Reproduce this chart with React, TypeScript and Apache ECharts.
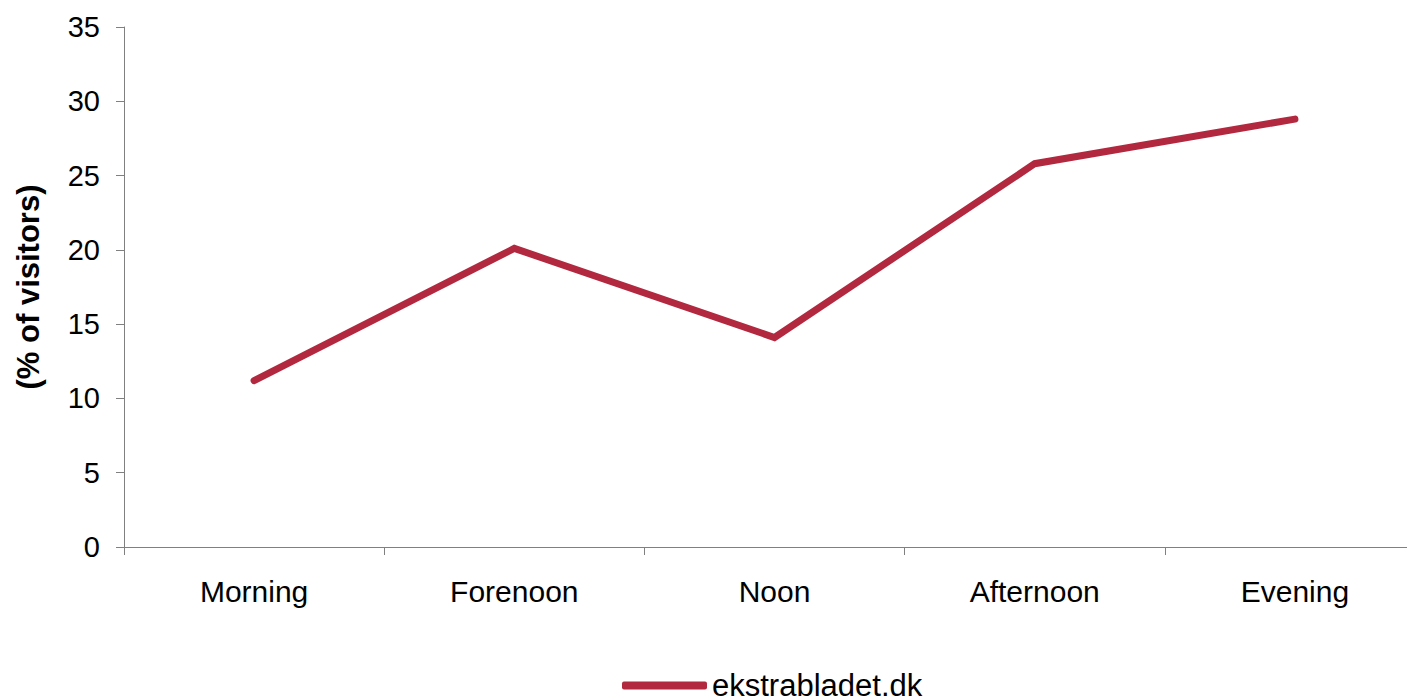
import React, { useEffect, useRef } from "react";
import * as echarts from "echarts";

const categories = ["Morning", "Forenoon", "Noon", "Afternoon", "Evening"];
const seriesName = "ekstrabladet.dk";
const values = [11.2, 20.1, 14.1, 25.8, 28.8];
const yTicks = { min: 0, max: 35, interval: 5 };
const yTitle = "(% of visitors)";

const FONT = "'Liberation Sans', Arial, sans-serif";
const LINE_COLOR = "#B2283F";
const AXIS_COLOR = "#808080";

export default function App() {
  const ref = useRef<HTMLDivElement>(null);
  useEffect(() => {
    if (!ref.current) return;
    const chart = echarts.init(ref.current, null, { renderer: "svg" });
    chart.setOption({
      animation: false,
      backgroundColor: "#ffffff",
      textStyle: { fontFamily: FONT },
      grid: { left: 124, top: 27, height: 520, width: 1301, containLabel: false },
      legend: {
        data: [seriesName],
        icon: "roundRect",
        itemWidth: 85,
        itemHeight: 8,
        itemGap: 10,
        left: 617,
        top: 665,
        textStyle: { fontSize: 31, color: "#000", fontFamily: FONT },
      },
      xAxis: {
        type: "category",
        data: categories,
        boundaryGap: true,
        axisLine: { show: true, lineStyle: { color: AXIS_COLOR, width: 1 } },
        axisTick: { show: true, inside: false, length: 8, lineStyle: { color: AXIS_COLOR } },
        axisLabel: { fontSize: 30, color: "#000", margin: 29, fontFamily: FONT },
        splitLine: { show: false },
      },
      yAxis: {
        type: "value",
        min: yTicks.min,
        max: yTicks.max,
        interval: yTicks.interval,
        name: yTitle,
        nameLocation: "middle",
        nameGap: 80,
        nameTextStyle: { fontSize: 31, fontWeight: "bold", color: "#000", fontFamily: FONT },
        axisLine: { show: true, lineStyle: { color: AXIS_COLOR, width: 1 } },
        axisTick: { show: true, inside: false, length: 8, lineStyle: { color: AXIS_COLOR } },
        axisLabel: { fontSize: 29, color: "#000", margin: 24, fontFamily: FONT },
        splitLine: { show: false },
      },
      series: [
        {
          name: seriesName,
          type: "line",
          data: values,
          symbol: "none",
          itemStyle: { color: LINE_COLOR },
          lineStyle: { color: LINE_COLOR, width: 7, cap: "round", join: "miter" },
        },
      ],
    });
    return () => chart.dispose();
  }, []);
  return (
    <div
      style={{
        position: "fixed",
        left: 0,
        top: 0,
        width: 1407,
        height: 698,
        overflow: "hidden",
        background: "#fff",
      }}
    >
      <div ref={ref} style={{ width: 1440, height: 698 }} />
    </div>
  );
}
